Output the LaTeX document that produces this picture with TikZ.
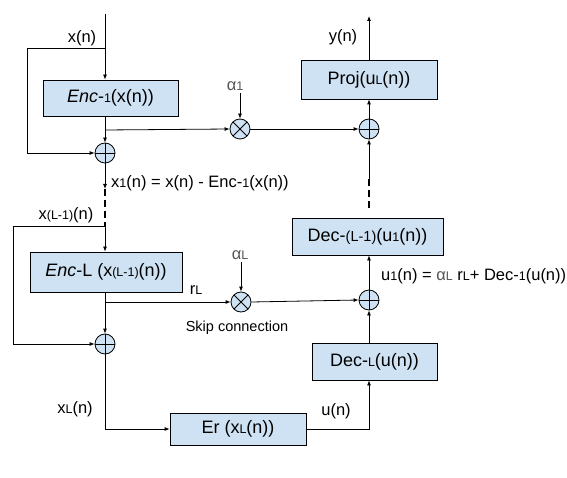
\documentclass[tikz,border=0pt]{standalone}
\usepackage{fontspec}
\setmainfont{Liberation Sans}
\usepackage{xcolor}
\usepackage{tikz}
\usetikzlibrary{arrows.meta}

\definecolor{boxblue}{HTML}{CFE2F3}
\definecolor{alphagray}{HTML}{555555}
\newcommand{\lowsub}[1]{{\fontsize{12.5}{14}\selectfont #1}}
\newcommand{\alphasym}[1]{\textcolor{alphagray}{α\lowsub{#1}}}

\tikzset{
    blockbox/.style={draw, fill=boxblue, line width=0.8pt, inner sep=0pt,
        font=\fontsize{18}{21}\selectfont},
    sumnode/.style={circle, draw, fill=boxblue, line width=0.8pt, minimum size=20pt, inner sep=0pt,
        path picture={\draw (path picture bounding box.north) -- (path picture bounding box.south)
            (path picture bounding box.west) -- (path picture bounding box.east);}},
    mulnode/.style={circle, draw, fill=boxblue, line width=0.8pt, minimum size=20pt, inner sep=0pt,
        path picture={\draw (path picture bounding box.north west) -- (path picture bounding box.south east)
            (path picture bounding box.north east) -- (path picture bounding box.south west);}},
    sig/.style={font=\fontsize{16.5}{19}\selectfont, inner sep=1pt},
    flow/.style={line width=0.8pt, -{Latex[length=5pt,width=4pt]}},
    wire/.style={line width=0.8pt},
    gap/.style={line width=2pt, dash pattern=on 7pt off 4pt}
}

\begin{document}
\begin{tikzpicture}[x=1pt, y=-1pt]
    \useasboundingbox (0,0) rectangle (567,478);

    \node[blockbox, minimum width=135pt, minimum height=36pt] (enc1) at (110.5,98) {\textit{Enc}-\lowsub{1}(x(n))};
    \node[blockbox, minimum width=152pt, minimum height=40pt] (encL) at (106,272) {\textit{Enc}-L (x\lowsub{(L-1)}(n))};
    \node[blockbox, minimum width=136pt, minimum height=32pt] (er) at (238,429) {Er (x\lowsub{L}(n))};
    \node[blockbox, minimum width=125pt, minimum height=37pt] (decL) at (374.5,361.5) {Dec-\lowsub{L}(u(n))};
    \node[blockbox, minimum width=151pt, minimum height=37pt] (decL1) at (367.5,236.5) {Dec-{\fontsize{14.5}{16}\selectfont(L-1)}(u\lowsub{1}(n))};
    \node[blockbox, minimum width=136pt, minimum height=39pt] (proj) at (369,79.5) {Proj(u\lowsub{L}(n))};

    \node[sumnode] (sum1) at (105,153) {};
    \node[sumnode] (sum2) at (105,344) {};
    \node[sumnode] (sum3) at (369,300) {};
    \node[sumnode] (sum4) at (369,129) {};
    \node[mulnode] (mul1) at (240,129) {};
    \node[mulnode] (mul2) at (241,302) {};

    \node[sig] (xn) at (82,38) {x(n)};
    \node[sig] (yn) at (343,37) {y(n)};
    \node[sig] (a1) at (235,86) {\alphasym{1}};
    \node[sig] (aL) at (240,255) {\alphasym{L}};
    \node[sig, anchor=west] (x1) at (110,183) {x\lowsub{1}(n) = x(n) - Enc-\lowsub{1}(x(n))};
    \node[sig] (xL1) at (66,215) {x\lowsub{(L-1)}(n)};
    \node[sig] (rL) at (196,290) {r\lowsub{L}};
    \node[sig, font=\fontsize{14.5}{17}\selectfont] (skip) at (237,328) {Skip connection};
    \node[sig] (xL) at (75,409) {x\lowsub{L}(n)};
    \node[sig] (un) at (336,411) {u(n)};
    \node[sig, anchor=west] (u1) at (380,276) {u\lowsub{1}(n) = \textcolor{alphagray}{α\lowsub{L}} r\lowsub{L}+ Dec-\lowsub{1}(u(n))};

    \coordinate (inTop) at (105,14);
    \coordinate (split1) at (105,48);
    \coordinate (fb1a) at (27,48);
    \coordinate (fb1b) at (27,153);
    \coordinate (branch1) at (105,130);
    \coordinate (a1tip) at (240,93);
    \coordinate (outTop) at (369,16);
    \coordinate (gapA) at (105,189);
    \coordinate (gapB) at (105,226);
    \coordinate (fb2a) at (13,226);
    \coordinate (fb2b) at (13,344);
    \coordinate (branch2) at (105,302);
    \coordinate (aLtip) at (241,262);
    \coordinate (xLcorner) at (105,429);
    \coordinate (uCorner) at (369,429);
    \coordinate (gapC) at (369,208);
    \coordinate (gapD) at (369,179);

    \draw[flow] (inTop) -- (enc1.north -| inTop);
    \draw[flow] (split1) -- (fb1a) -- (fb1b) -- (sum1.west);
    \draw[wire] (enc1.south -| branch1) -- (branch1);
    \draw[flow] (branch1) -- (sum1.north);
    \draw[flow] (branch1) -- (mul1.west);
    \draw[flow] (a1tip) -- (mul1.north);
    \draw[flow] (mul1.east) -- (sum4.west);
    \draw[flow] (sum4.north) -- (proj.south);
    \draw[flow] (proj.north) -- (outTop);

    \draw[flow] (sum1.south) -- (gapA);
    \draw[gap] (gapA) -- (gapB);
    \draw[flow] (gapB) -- (encL.north -| gapB);
    \draw[flow] (gapB) -- (fb2a) -- (fb2b) -- (sum2.west);
    \draw[wire] (encL.south -| branch2) -- (branch2);
    \draw[flow] (branch2) -- (sum2.north);
    \draw[flow] (branch2) -- (mul2.west);
    \draw[flow] (aLtip) -- (mul2.north);
    \draw[flow] (mul2.east) -- (sum3.west);
    \draw[flow] (sum2.south) -- (xLcorner) -- (er.west);
    \draw[flow] (er.east) -- (uCorner) -- (decL.south -| uCorner);
    \draw[flow] (decL.north -| sum3) -- (sum3.south);
    \draw[flow] (sum3.north) -- (decL1.south -| sum3);
    \draw[gap] (gapC) -- (gapD);
    \draw[flow] (gapD) -- (sum4.south);
\end{tikzpicture}
\end{document}
